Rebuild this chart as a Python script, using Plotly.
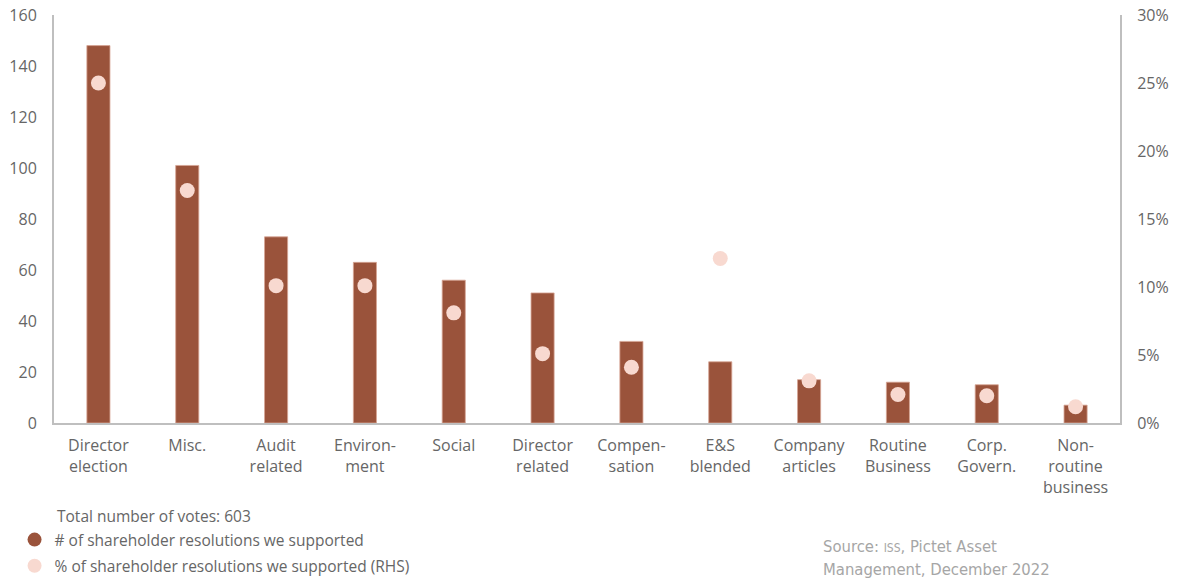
import plotly.graph_objects as go

categories = ["Director<br>election", "Misc.", "Audit<br>related", "Environ-<br>ment", "Social",
              "Director<br>related", "Compen-<br>sation", "E&S<br>blended", "Company<br>articles",
              "Routine<br>Business", "Corp.<br>Govern.", "Non-<br>routine<br>business"]
num_supported = [148, 101, 73, 63, 56, 51, 32, 24, 17, 16, 15, 7]
pct_supported = [25.0, 17.1, 10.1, 10.1, 8.1, 5.1, 4.1, 12.1, 3.1, 2.1, 2.0, 1.2]
left_ticks = [0, 20, 40, 60, 80, 100, 120, 140, 160]
right_ticks = [0, 5, 10, 15, 20, 25, 30]
right_labels = ["0%", "5%", "10%", "15%", "20%", "25%", "30%"]

BAR = "#9A533B"
DOT = "#F8D9D0"
GREY_TXT = "#666666"
AXIS = "#BFBFBF"

fig = go.Figure()
fig.add_trace(go.Bar(x=categories, y=num_supported, marker=dict(color=BAR, line=dict(color="#D7A494", width=0.8)),
                     width=0.26, showlegend=False, yaxis="y"))
fig.add_trace(go.Scatter(x=categories, y=pct_supported, mode="markers", yaxis="y2",
                         marker=dict(color=DOT, size=15, symbol="circle"), showlegend=False))
# legend entries
fig.add_trace(go.Scatter(x=[None], y=[None], mode="markers", name="# of shareholder resolutions we supported",
                         legendgroup="a", marker=dict(color=BAR, size=14, symbol="circle")))
fig.add_trace(go.Scatter(x=[None], y=[None], mode="markers", name="% of shareholder resolutions we supported (RHS)",
                         legendgroup="b", marker=dict(color=DOT, size=14, symbol="circle"), yaxis="y2"))

fig.update_layout(
    width=1178, height=581,
    margin=dict(l=54, r=58, t=15, b=158, autoexpand=False),
    plot_bgcolor="white", paper_bgcolor="white",
    xaxis=dict(range=[-0.5, len(categories) - 0.5], showgrid=False, showline=True, linecolor=AXIS, linewidth=2,
               ticks="", automargin=False, ticklabelstandoff=7,
               tickfont=dict(family="Open Sans", size=16, color=GREY_TXT), fixedrange=True),
    yaxis=dict(range=[0, 160], tickvals=left_ticks, showgrid=False, showline=True, linecolor=AXIS,
               linewidth=2, ticks="", zeroline=False, automargin=False, ticklabelstandoff=12,
               tickfont=dict(family="Open Sans", size=16, color=GREY_TXT)),
    yaxis2=dict(range=[0, 30], tickvals=right_ticks, ticktext=right_labels, overlaying="y", side="right",
                showgrid=False, showline=True, linecolor=AXIS, linewidth=2, ticks="", zeroline=False,
                automargin=False, ticklabelstandoff=12,
                tickfont=dict(family="Open Sans", size=16, color=GREY_TXT)),
    legend=dict(x=-0.037, y=(423 - 523) / 408, xanchor="left", yanchor="top", orientation="v",
                font=dict(family="Open Sans", size=15.5, color=GREY_TXT), traceorder="grouped", tracegroupgap=3,
                bgcolor="rgba(0,0,0,0)"),
    annotations=[
        dict(text="Total number of votes: 603", xref="paper", yref="paper", x=(55 - 54) / 1066, y=(423 - 516) / 408,
             xanchor="left", yanchor="middle", showarrow=False, font=dict(family="Open Sans", size=15.5, color=GREY_TXT)),
        dict(text="Source: <span style='font-size:12px'>ISS</span>, Pictet Asset",
             xref="paper", yref="paper", x=(821 - 54) / 1066, y=(423 - 546) / 408, xanchor="left", yanchor="middle",
             align="left", showarrow=False,
             font=dict(family="DejaVu Sans Condensed, sans-serif", size=16.5, color="#A6A6A6")),
        dict(text="Management, December 2022",
             xref="paper", yref="paper", x=(821 - 54) / 1066, y=(423 - 569) / 408, xanchor="left", yanchor="middle",
             align="left", showarrow=False,
             font=dict(family="DejaVu Sans Condensed, sans-serif", size=16.5, color="#A6A6A6")),
    ],
)

fig.write_html("out.html")
